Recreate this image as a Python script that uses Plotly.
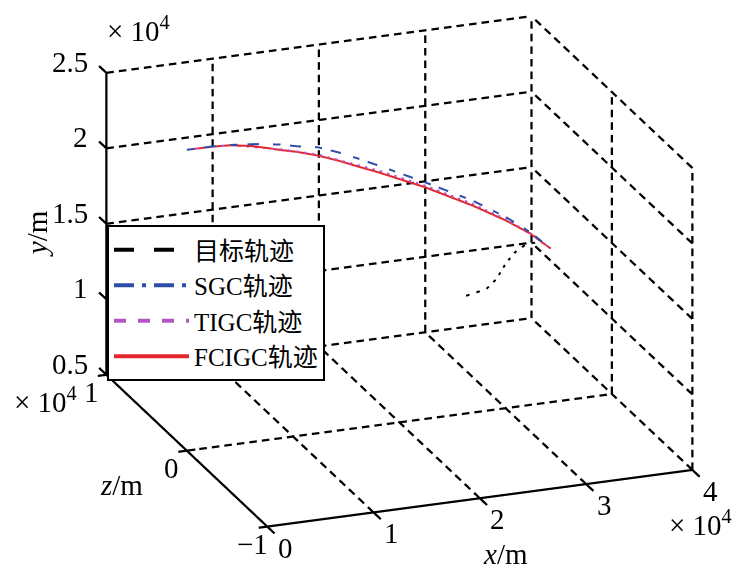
import plotly.graph_objects as go
import math

# ---------------- data (metres) ----------------
fc_x = [0, 2430, 4050, 5950, 7570, 8810, 10430, 12330, 14240, 16140, 18050, 22430, 26900, 30050, 32330, 34240]
fc_y = [24930, 24910, 24850, 24630, 24340, 24090, 23810, 23390, 22880, 22300, 21740, 20340, 18710, 17420, 16340, 15170]

sgc_x = [0, 2430, 4050, 6620, 8810, 10430, 12330, 14240, 16140, 18050, 22430, 26900, 30050, 32330, 34240]
sgc_y = [24930, 24930, 24870, 24690, 24450, 24180, 23940, 23430, 22830, 22190, 20670, 19040, 17640, 16430, 15170]

ti_x = [0, 2430, 4050, 8810, 12330, 18050, 22430, 26900, 30050, 32330, 34240]
ti_y = [24930, 24920, 24860, 24140, 23460, 21850, 20450, 18820, 17490, 16370, 15170]

tg_x = [26270, 28170, 29120, 30080, 31030, 31980, 32930, 33380]
tg_y = [12790, 13060, 13630, 14650, 15340, 15690, 15710, 15580]

x_ticks = [0, 10000, 20000, 30000, 40000]
z_ticks = [-10000, 0, 10000]
y_ticks = [5000, 10000, 15000, 20000, 25000]
x_tick_text = ["0", "1", "2", "3", "4"]
z_tick_text = ["\u22121", "0", "1"]
y_tick_text = ["0.5", "1", "1.5", "2", "2.5"]

FONT = "Liberation Serif, Times New Roman, Noto Sans CJK SC, serif"

x0, x1 = x_ticks[0], x_ticks[-1]
z0, z1 = z_ticks[0], z_ticks[-1]
y0, y1 = y_ticks[0], y_ticks[-1]

# approximate on-screen length (px) of a full edge along each axis, used only to size grid dashes
PX_X, PX_Z, PX_Y = 423.0, 218.0, 301.0
DASH_PERIOD, DASH_ON = 12.5, 0.6

fig = go.Figure()


def seg_trace(segs, width):
    X, Y, Z = [], [], []
    for (a, b) in segs:
        X += [a[0], b[0], None]
        Y += [a[1], b[1], None]
        Z += [a[2], b[2], None]
    # plotly coords: x = data x, y = data z, z = data y (vertical)
    return go.Scatter3d(x=X, y=Y, z=Z, mode="lines",
                        line=dict(color="#000000", width=width),
                        showlegend=False, hoverinfo="skip")


def dashed(a, b):
    L = math.hypot(math.hypot(abs(b[0] - a[0]) / (x1 - x0) * PX_X,
                              abs(b[1] - a[1]) / (z1 - z0) * PX_Z),
                   abs(b[2] - a[2]) / (y1 - y0) * PX_Y)
    n = max(1, int(round(L / DASH_PERIOD)))
    out = []
    for i in range(n):
        t0 = i / n
        t1 = (i + DASH_ON) / n
        p = tuple(a[k] + (b[k] - a[k]) * t0 for k in range(3))
        q = tuple(a[k] + (b[k] - a[k]) * t1 for k in range(3))
        out.append((p, q))
    return out


# dashed grid
grid = []
for xv in x_ticks[1:]:
    grid += dashed((xv, z1, y0), (xv, z1, y1))     # back wall verticals
    grid += dashed((xv, z0, y0), (xv, z1, y0))     # floor lines along z
for yv in y_ticks:
    grid += dashed((x0, z1, yv), (x1, z1, yv))     # back wall horizontals
    grid += dashed((x1, z0, yv), (x1, z1, yv))     # right wall horizontals
for zv in z_ticks:
    grid += dashed((x1, zv, y0), (x1, zv, y1))     # right wall verticals
for zv in z_ticks[1:]:
    grid += dashed((x0, zv, y0), (x1, zv, y0))     # floor lines along x
fig.add_trace(seg_trace(grid, 4.5))

# solid axes + ticks
tl_z = 0.045 * (z1 - z0)
tl_x = 0.02 * (x1 - x0)
axes = [((x0, z0, y0), (x1, z0, y0)),
        ((x0, z0, y0), (x0, z1, y0)),
        ((x0, z1, y0), (x0, z1, y1))]
for xv in x_ticks:
    axes.append(((xv, z0, y0), (xv, z0 - tl_z, y0)))
for zv in z_ticks:
    axes.append(((x0 - tl_x, zv, y0), (x0 + tl_x, zv, y0)))
for yv in y_ticks:
    axes.append(((x0, z1, yv), (x0, z1 + tl_z, yv)))
fig.add_trace(seg_trace(axes, 4.5))

# data traces (all in z = 0 plane)
fig.add_trace(go.Scatter3d(x=tg_x, y=[0] * len(tg_x), z=tg_y, mode="lines",
                           name="目标轨迹", line=dict(color="#000000", width=4, dash="longdash")))
fig.add_trace(go.Scatter3d(x=sgc_x, y=[0] * len(sgc_x), z=sgc_y, mode="lines",
                           name="SGC轨迹", line=dict(color="#2E4FA8", width=4, dash="longdashdot")))
fig.add_trace(go.Scatter3d(x=ti_x, y=[0] * len(ti_x), z=ti_y, mode="lines",
                           name="TIGC轨迹", line=dict(color="#B455C4", width=4, dash="dash")))
fig.add_trace(go.Scatter3d(x=fc_x, y=[0] * len(fc_x), z=fc_y, mode="lines",
                           name="FCIGC轨迹", line=dict(color="#E5262C", width=4, dash="solid")))

# ---------------- annotations ----------------
ann = []


def A(x, z, y, text, xs, ys, xa="center", ya="middle", angle=0):
    ann.append(dict(x=x, y=z, z=y, text=text, showarrow=False, xshift=xs, yshift=ys,
                    xanchor=xa, yanchor=ya, textangle=angle,
                    font=dict(family=FONT, size=29, color="#000000")))


for v, t in zip(x_ticks, x_tick_text):
    A(v, z0, y0, t, 18, -21)
for v, t in zip(z_ticks, z_tick_text):
    A(x0, v, y0, t, -15, -17)
for v, t in zip(y_ticks, y_tick_text):
    A(x0, z1, v, t, -16, 11, xa="right")
A(x1, z0, y0, "\u00d7 10<sup>4</sup>", 8, -53)
A(x0, z1, y0, "\u00d7 10<sup>4</sup>", -61, -25)
A(x0, z1, y1, "\u00d7 10<sup>4</sup>", 32, 44)
A(x_ticks[2], z0, y0, "<i>x</i>/m", 26, -56)
A(x0, z_ticks[1], y0, "<i>z</i>/m", -65, -34)
A(x0, z1, y_ticks[2], "<i>y</i>/m", -70, -10, angle=-90)

# ---------------- camera ----------------
el = math.radians(20.77)
az = math.radians(249.4)
r = 2.0
shift = (0.0179, -0.0167, -0.0246)   # small pan of the view (scene units)
eye = dict(x=r * math.cos(el) * math.cos(az) + shift[0],
           y=r * math.cos(el) * math.sin(az) + shift[1],
           z=r * math.sin(el) + shift[2])
center = dict(x=shift[0], y=shift[1], z=shift[2])

pad = 0.05
xr = [x0 - pad * (x1 - x0), x1 + pad * (x1 - x0)]
zr = [z0 - pad * (z1 - z0), z1 + pad * (z1 - z0)]
yr = [y0 - pad * (y1 - y0), y1 + pad * (y1 - y0)]

SCALE = 1.679
hidden = dict(showgrid=False, zeroline=False, showline=False, showticklabels=False,
              ticks="", showbackground=False, showspikes=False, title=dict(text=""))

fig.update_layout(
    width=745, height=581,
    margin=dict(l=0, r=0, t=0, b=0),
    paper_bgcolor="white",
    font=dict(family=FONT, color="#000000"),
    scene=dict(
        domain=dict(x=[0.0672, 1.0], y=[0.0688, 1.0]),
        xaxis=dict(range=xr, **hidden),
        yaxis=dict(range=zr, **hidden),
        zaxis=dict(range=yr, **hidden),
        aspectmode="manual",
        aspectratio=dict(x=SCALE * 1.0 * (1 + 2 * pad),
                         y=SCALE * 1.007 * (1 + 2 * pad),
                         z=SCALE * 0.711 * (1 + 2 * pad)),
        camera=dict(eye=eye, up=dict(x=0, y=0, z=1), center=center,
                    projection=dict(type="orthographic")),
        bgcolor="white",
        annotations=ann,
    ),
    legend=dict(x=99 / 745, y=1 - 217 / 581, xanchor="left", yanchor="top",
                bgcolor="white", bordercolor="#000000", borderwidth=2,
                font=dict(family=FONT, size=25, color="#000000"),
                itemwidth=75, tracegroupgap=0),
    showlegend=True,
)

fig.write_html("out.html")
